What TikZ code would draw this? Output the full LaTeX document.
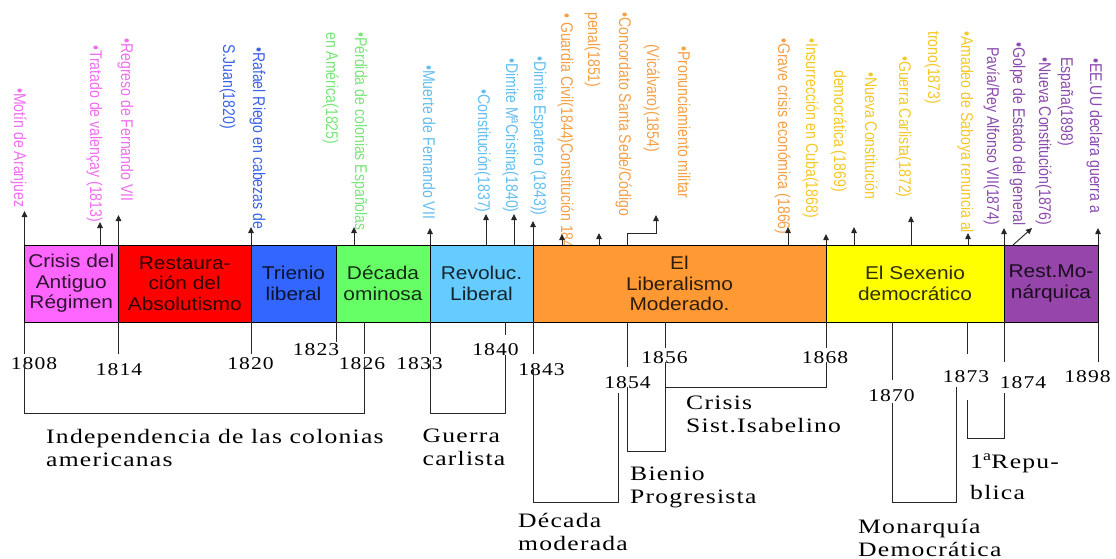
\documentclass[tikz,border=0pt]{standalone}
\usepackage{fontspec}
\setmainfont{Liberation Serif}
\newfontfamily\boxfont[FakeStretch=1.13]{Liberation Sans}
\newfontfamily\serfont[FakeStretch=1.25,LetterSpace=6]{Liberation Serif}
\newfontfamily\yrfont[FakeStretch=1.2,LetterSpace=6]{Liberation Serif}
\newfontfamily\topfont[FakeStretch=0.83]{Liberation Sans}
\usetikzlibrary{arrows.meta}
\definecolor{c1}{RGB}{255,102,255}
\definecolor{c2}{RGB}{255,0,0}
\definecolor{c3}{RGB}{51,102,255}
\definecolor{c4}{RGB}{102,255,102}
\definecolor{c5}{RGB}{102,204,255}
\definecolor{c6}{RGB}{255,153,51}
\definecolor{c7}{RGB}{255,255,0}
\definecolor{c8}{RGB}{150,70,170}
\definecolor{vio}{RGB}{240,110,240}
\definecolor{blu}{RGB}{60,100,235}
\definecolor{grn}{RGB}{120,230,120}
\definecolor{lbl}{RGB}{100,190,240}
\definecolor{org}{RGB}{245,160,70}
\definecolor{yel}{RGB}{245,200,40}
\definecolor{pur}{RGB}{140,75,175}
\newcommand\tlab[5]{\node[toplab, text=#4] (#1) at (#2-5,#3) {#5};}
\newcommand\uarr[3]{\coordinate (#1s) at (#2,245); \coordinate (#1) at (#2,#3); \draw[arr] (#1s) -- (#1);}
\begin{document}
\begin{tikzpicture}[x=1pt,y=-1pt,
  period/.style={draw=black, line width=0.8pt, inner sep=0pt, minimum height=77pt, align=center,
    font=\boxfont\fontsize{18.5}{20.5}\selectfont, text opacity=0.82},
  toplab/.style={rotate=-90, anchor=base west, inner sep=0pt, font=\topfont\fontsize{17}{18}\selectfont},
  yr/.style={inner sep=0pt, font=\yrfont\fontsize{18}{20}\selectfont},
  blab/.style={inner sep=0pt, anchor=north west, align=left, font=\serfont\fontsize{20.5}{23}\selectfont},
  arr/.style={draw=black!85, -{Triangle[length=6pt,width=5.5pt]}, line width=0.9pt},
  tick/.style={draw=black!85, line width=0.9pt}
]
\fill[white] (0,0) rectangle (1116,558);
\useasboundingbox (0,0) rectangle (1116,558);

% top labels
\tlab{t1}{19}{88}{vio}{•Motín de Aranjuez}
\tlab{t2}{95}{45}{vio}{•Tratado de valençay (1813)}
\tlab{t3}{126}{38}{vio}{•Regreso de Fernando VII}
\tlab{t4a}{258}{47}{blu}{•Rafael Riego en cabezas de}
\tlab{t4b}{228}{44}{blu}{S.Juan(1820)}
\tlab{t5a}{360}{32}{grn}{•Pérdida de colonias Españolas}
\tlab{t5b}{331}{32}{grn}{en América(1825)}
\tlab{t6}{428}{65}{lbl}{•Muerte de Fernando VII}
\tlab{t7}{483}{89}{lbl}{•Constitución(1837)}
\tlab{t8}{511}{58}{lbl}{•Dimite MªCristina(1840)}
\tlab{t9}{539}{56}{lbl}{•Dimite Espartero (1843))}
\tlab{t10}{566}{13}{org}{• Guardia Civil(1844)Constitución 184}
\tlab{t11a}{624}{12}{org}{•Concordato Santa Sede/Código}
\tlab{t11b}{593}{12}{org}{penal(1851)}
\tlab{t12a}{683}{46}{org}{•Pronunciamiento militar}
\tlab{t12b}{652}{44}{org}{(Vicálvaro)(1854)}
\tlab{t13}{783}{38}{org}{•Grave crisis económica (1866)}
\tlab{t14}{811}{38}{yel}{•Insurrección en Cuba(1868)}
\tlab{t15a}{870}{72}{yel}{•Nueva Constitución}
\tlab{t15b}{839}{70}{yel}{democrática (1869)}
\tlab{t16}{904}{56}{yel}{•Guerra Carlista(1872)}
\tlab{t17a}{966}{31}{yel}{•Amadeo de Saboya renuncia al}
\tlab{t17b}{933}{31}{yel}{trono(1873)}
\tlab{t18a}{1018}{42}{pur}{•Golpe de Estado del general}
\tlab{t18b}{992}{47}{pur}{Pavía/Rey Alfonso VII(1874)}
\tlab{t19}{1044}{57}{pur}{•Nueva Constitución(1876)}
\tlab{t20a}{1095}{58}{pur}{•EE.UU declara guerra a}
\tlab{t20b}{1066}{57}{pur}{España(1898)}

% period boxes
\node[period, fill=c1, minimum width=94.5pt] (p1) at (71.25,283.5) {Crisis del\\Antiguo\\Régimen};
\node[period, fill=c2, minimum width=132.5pt] (p2) at (184.75,283.5) {Restaura-\\ción del\\Absolutismo};
\node[period, fill=c3, minimum width=85pt] (p3) at (293.5,283.5) {Trienio\\liberal};
\node[period, fill=c4, minimum width=94pt] (p4) at (383,283.5) {Década\\ominosa};
\node[period, fill=c5, minimum width=103pt] (p5) at (481.5,283.5) {Revoluc.\\Liberal};
\node[period, fill=c6, minimum width=293pt] (p6) at (679.5,283.5) {El\\Liberalismo\\Moderado.};
\node[period, fill=c7, minimum width=178pt] (p7) at (915,283.5) {El Sexenio\\democrático};
\node[period, fill=c8, minimum width=94pt] (p8) at (1051,283.5) {Rest.Mo-\\nárquica};

% arrows up
\uarr{a1}{24.5}{211}
\uarr{a2}{100}{222}
\uarr{a3}{118.5}{215}
\uarr{a4}{251}{227}
\uarr{a5}{354}{227}
\uarr{a6}{430}{228}
\uarr{a7}{486}{214}
\uarr{a8}{514}{214}
\uarr{a9}{533}{221}
\uarr{a10}{562}{234}
\uarr{a11}{599}{233}
\coordinate (a12s) at (627,245); \coordinate (a12) at (656,215);
\draw[arr] (a12s) -- (627,233) -| (a12);
\uarr{a13}{788}{227}
\uarr{a14}{826}{234}
\uarr{a15}{854}{227}
\uarr{a16}{911}{216}
\uarr{a17}{968}{233}
\uarr{a18}{1004}{228}
\coordinate (a19s) at (1013,245); \coordinate (a19) at (1032,228);
\draw[arr] (a19s) -- (a19);
\uarr{a20}{1098}{228}

% year labels
\node[yr] (y1808) at (34,364) {1808};
\node[yr] (y1814) at (119,370) {1814};
\node[yr] (y1820) at (250.5,364) {1820};
\node[yr] (y1823) at (316,350) {1823};
\node[yr] (y1826) at (362,364) {1826};
\node[yr] (y1833) at (419.5,364) {1833};
\node[yr] (y1840) at (495.5,350) {1840};
\node[yr] (y1843) at (541.5,370) {1843};
\node[yr] (y1854) at (627.5,383) {1854};
\node[yr] (y1856) at (664.5,358) {1856};
\node[yr] (y1868) at (825,358) {1868};
\node[yr] (y1870) at (891.5,396) {1870};
\node[yr] (y1873) at (966,377) {1873};
\node[yr] (y1874) at (1023,383) {1874};
\node[yr] (y1898) at (1087.5,377) {1898};

% ticks
\draw[tick] (24.5,322) -- (24.5,354);
\draw[tick] (118.5,322) -- (118.5,354);
\draw[tick] (251,322) -- (251,354);
\draw[tick] (336,322) -- (336,342);
\draw[tick] (364,322) -- (364,354);
\draw[tick] (430,322) -- (430,354);
\draw[tick] (505,322) -- (505,335);
\draw[tick] (533,322) -- (533,354);
\draw[tick] (627.5,322) -- (627.5,367);
\draw[tick] (665.5,322) -- (665.5,348);
\draw[tick] (826,322) -- (826,348);
\draw[tick] (892.5,322) -- (892.5,380);
\draw[tick] (967.5,322) -- (967.5,354);
\draw[tick] (1004,322) -- (1004,362);
\draw[tick] (1098,322) -- (1098,362);

% brackets
\draw[tick] (24.5,360) -- (24.5,413) -- (364,413) -- (364,360);
\draw[tick] (430,360) -- (430,413) -- (505,413) -- (505,355);
\draw[tick] (533,368) -- (533,502) -- (618,502) -- (618,393);
\draw[tick] (627.5,387) -- (627.5,451) -- (665.5,451) -- (665.5,362);
\draw[tick] (665.5,387) -- (826,387) -- (826,362);
\draw[tick] (892.5,403) -- (892.5,502) -- (956.5,502) -- (956.5,387);
\draw[tick] (967.5,400) -- (967.5,438) -- (1004,438) -- (1004,393);

% bracket labels
\node[blab] (l1) at (46,429) {Independencia de las colonias\\americanas};
\node[blab] (l2) at (422.5,429) {Guerra\\carlista};
\node[blab] (l3) at (518,513) {Década\\moderada};
\node[blab] (l4) at (630,467) {Bienio\\Progresista};
\node[blab] (l5) at (686,396) {Crisis\\Sist.Isabelino};
\node[blab] (l6) at (858,519) {Monarquía\\Democrática};
\node[blab] (l7) at (970,454) {1\textsuperscript{a}Repu-\\[8pt]blica};
\end{tikzpicture}
\end{document}
